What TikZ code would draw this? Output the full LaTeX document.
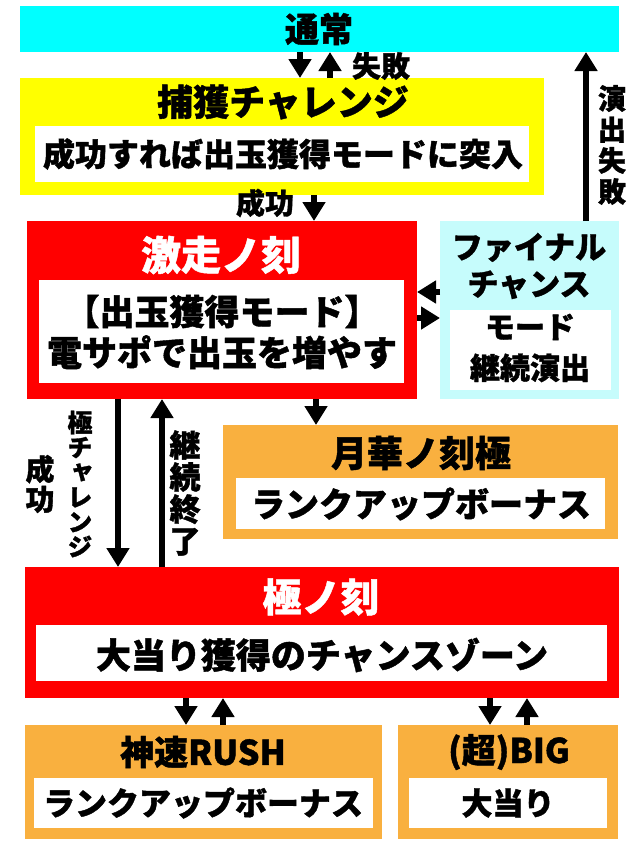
\documentclass[tikz,border=0pt]{standalone}
\usepackage{fontspec}
\newfontfamily\jp{Noto Sans CJK JP Black}[FakeBold=1.2]
\newfontfamily\jpv{Noto Sans CJK JP Black}[RawFeature=+vert,FakeBold=1.2]
\usetikzlibrary{arrows.meta}
\definecolor{cyanA}{HTML}{00FFFF}
\definecolor{yellowA}{HTML}{FFFF00}
\definecolor{redA}{HTML}{FF0000}
\definecolor{lcyan}{HTML}{C6FCFC}
\definecolor{orangeA}{HTML}{F9B03F}
\newcommand{\fs}[1]{\fontsize{#1}{#1}\selectfont}
\begin{document}
\begin{tikzpicture}[x=1pt,y=-1pt,
  panel/.style={draw=none,inner sep=0pt,outer sep=0pt,anchor=north west},
  txt/.style={font=\jp,inner sep=0pt,text=black},
  vtxt/.style={font=\jpv,inner sep=0pt,align=center,text=black},
  arr/.style={line width=5.5pt,-{Triangle[width=22pt,length=19pt]}}]
\useasboundingbox[fill=white] (0,0) rectangle (640,846);
% panels
\node[panel,fill=cyanA,minimum width=599pt,minimum height=46pt] (tsujo) at (20,6) {};
\node[panel,fill=yellowA,minimum width=524pt,minimum height=117pt] (hokaku) at (20,78) {};
\node[panel,fill=white,minimum width=494pt,minimum height=56pt] (hokakuin) at (35,126) {};
\node[panel,fill=redA,minimum width=390pt,minimum height=178pt] (gekiso) at (27,221) {};
\node[panel,fill=white,minimum width=365pt,minimum height=103pt] (gekisoin) at (39,280) {};
\node[panel,fill=lcyan,minimum width=179pt,minimum height=178pt] (final) at (440,221) {};
\node[panel,fill=white,minimum width=161pt,minimum height=80pt] (finalin) at (450,310) {};
\node[panel,fill=orangeA,minimum width=395pt,minimum height=114pt] (gekka) at (223,425) {};
\node[panel,fill=white,minimum width=369pt,minimum height=51pt] (gekkain) at (236,478) {};
\node[panel,fill=redA,minimum width=594pt,minimum height=131pt] (kiwami) at (25,567) {};
\node[panel,fill=white,minimum width=571pt,minimum height=56pt] (kiwamiin) at (36,625) {};
\node[panel,fill=orangeA,minimum width=357pt,minimum height=114pt] (jinsoku) at (25,725) {};
\node[panel,fill=white,minimum width=339pt,minimum height=50pt] (jinsokuin) at (34,778) {};
\node[panel,fill=orangeA,minimum width=220pt,minimum height=114pt] (big) at (398,725) {};
\node[panel,fill=white,minimum width=198pt,minimum height=50pt] (bigin) at (409,778) {};
% texts
\node[txt,font=\jp\fs{34}] (t1) at (319,29) {通常};
\node[txt,font=\jp\fs{36}] (t2) at (283,102) {捕獲チャレンジ};
\node[txt,font=\jp\fs{32}] (t3) at (283,154) {成功すれば出玉獲得モードに突入};
\node[txt,font=\jp\fs{40},text=white] (t4) at (221,255) {激走ノ刻};
\node[txt,font=\jp\fs{35},align=center] (t5) at (222,332) {【出玉獲得モード】\\[6pt]電サポで出玉を増やす};
\node[txt,font=\jp\fs{31},align=center] (t6) at (529,266) {ファイナル\\[6pt]チャンス};
\node[txt,font=\jp\fs{30},align=center] (t7) at (530,348) {モード\\[11pt]継続演出};
\node[txt,font=\jp\fs{36}] (t8) at (421,453) {月華ノ刻極};
\node[txt,font=\jp\fs{34}] (t9) at (421,504) {ランクアップボーナス};
\node[txt,font=\jp\fs{39},text=white] (t10) at (321,597) {極ノ刻};
\node[txt,font=\jp\fs{35}] (t11) at (322,655) {大当り獲得のチャンスゾーン};
\node[txt,font=\jp\fs{34}] (t12) at (203,752) {神速RUSH};
\node[txt,font=\jp\fs{32}] (t13) at (203,803) {ランクアップボーナス};
\node[txt,font=\jp\fs{34}] (t14) at (509,752) {(超)BIG};
\node[txt,font=\jp\fs{31}] (t15) at (508,803) {大当り};
% labels
\node[txt,font=\jp\fs{29}] (l1) at (381,66) {失敗};
\node[txt,font=\jp\fs{29}] (l2) at (265,203) {成功};
\node[vtxt,font=\jpv\fontsize{28}{31}\selectfont] (l3) at (612,145) {演\\出\\失\\敗};
\node[vtxt,font=\jpv\fontsize{29}{30}\selectfont] (l4) at (40,484) {成\\功};
\node[vtxt,font=\jpv\fontsize{25}{24.8}\selectfont] (l5) at (80,484) {極\\チ\\ャ\\レ\\ン\\ジ};
\node[vtxt,font=\jpv\fontsize{31}{32}\selectfont] (l6) at (185,493) {継\\続\\終\\了};
% x positions
\coordinate (x303) at (300,0);
\coordinate (x332) at (330,0);
\coordinate (x314) at (314,0);
\coordinate (x586) at (586,0);
\coordinate (x119) at (118,0);
\coordinate (x162) at (162,0);
\coordinate (x316) at (316,0);
\coordinate (x186) at (186,0);
\coordinate (x223) at (223,0);
\coordinate (x490) at (490,0);
\coordinate (x527) at (527,0);
\coordinate (y292) at (0,292);
\coordinate (y318) at (0,318);
% arrows
\draw[arr] (tsujo.south -| x303) -- (hokaku.north -| x303);
\draw[arr] (hokaku.north -| x332) -- (tsujo.south -| x332);
\draw[arr] (hokaku.south -| x314) -- (gekiso.north -| x314);
\draw[arr] (final.north -| x586) -- (tsujo.south -| x586);
\draw[arr] (final.west |- y292) -- (gekiso.east |- y292);
\draw[arr] (gekiso.east |- y318) -- (final.west |- y318);
\draw[arr] (gekiso.south -| x119) -- (kiwami.north -| x119);
\draw[arr] (kiwami.north -| x162) -- (gekiso.south -| x162);
\draw[arr] (gekiso.south -| x316) -- (gekka.north -| x316);
\draw[arr] (kiwami.south -| x186) -- (jinsoku.north -| x186);
\draw[arr] (jinsoku.north -| x223) -- (kiwami.south -| x223);
\draw[arr] (kiwami.south -| x490) -- (big.north -| x490);
\draw[arr] (big.north -| x527) -- (kiwami.south -| x527);
\end{tikzpicture}
\end{document}
